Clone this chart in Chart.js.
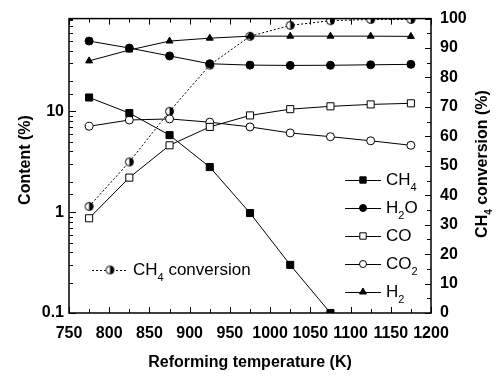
<!DOCTYPE html>
<html>
<head>
<meta charset="utf-8">
<script src="https://cdn.jsdelivr.net/npm/chart.js@4.4.0/dist/chart.umd.min.js"></script>
<style>
  html, body { margin: 0; padding: 0; background: #fff; }
</style>
</head>
<body>
<canvas id="chart" width="496" height="376"></canvas>
<script>
// Reforming temperature (K) and gas content (%), log scale on the left
const temps = [775, 825, 875, 925, 975, 1025, 1075, 1125, 1175];
const ch4 = [13.7, 9.6, 5.8, 2.8, 0.98, 0.30, 0.1];
const h2o = [49.7, 42.4, 35.4, 29.6, 28.7, 28.5, 28.6, 28.9, 29.2];
const co = [0.87, 2.2, 4.6, 7.0, 9.1, 10.5, 11.2, 11.7, 12.0];
const co2 = [7.1, 8.2, 8.4, 7.8, 7.0, 6.1, 5.6, 5.1, 4.6];
const h2 = [31.6, 40.5, 49.7, 53.1, 55.6, 55.6, 55.6, 55.6, 55.3];
// CH4 conversion (%), right axis
const conversion = [36.2, 51.3, 68.5, 84.2, 94.0, 97.7, 99.3, 99.7, 99.7];

const leftLabels = [0.1, 1, 10];
const xLabelStep = 50;
const rightLabelStep = 10;

const FONT = '"Liberation Sans", Arial, sans-serif';
const tickFont = { family: FONT, size: 16, weight: 'bold' };

const pts = vals => vals.map((v, i) => ({ x: temps[i], y: v }));

// circle with the right half filled
function halfDot(r) {
    const cv = document.createElement('canvas');
    const s = Math.ceil(2 * r + 3);
    cv.width = cv.height = s;
    const g = cv.getContext('2d');
    const c = s / 2;
    g.fillStyle = '#fff';
    g.beginPath(); g.arc(c, c, r, 0, 2 * Math.PI); g.fill();
    g.fillStyle = '#000';
    g.beginPath(); g.arc(c, c, r, -Math.PI / 2, Math.PI / 2); g.closePath(); g.fill();
    g.strokeStyle = '#000'; g.lineWidth = 1;
    g.beginPath(); g.arc(c, c, r, 0, 2 * Math.PI); g.stroke();
    return cv;
}

const series = (data, style, filled, radius) => ({
    data: pts(data),
    yAxisID: 'y',
    borderColor: '#000',
    borderWidth: 1,
    pointStyle: style,
    pointRadius: radius,
    pointHoverRadius: radius,
    pointBorderWidth: 1,
    pointBorderColor: '#000',
    pointBackgroundColor: filled ? '#000' : '#fff',
    tension: 0
});

// draws text runs, sub runs are smaller and shifted down
function richText(ctx, x, y, runs, size, align) {
    const big = 'normal ' + size + 'px ' + FONT;
    const small = 'normal ' + Math.round(size * 0.65) + 'px ' + FONT;
    let w = 0;
    runs.forEach(([t, sub]) => { ctx.font = sub ? small : big; w += ctx.measureText(t).width; });
    let cx = align === 'center' ? x - w / 2 : x;
    ctx.textAlign = 'left';
    ctx.textBaseline = 'middle';
    runs.forEach(([t, sub]) => {
        ctx.font = sub ? small : big;
        ctx.fillText(t, cx, sub ? y + size * 0.45 : y);
        cx += ctx.measureText(t).width;
    });
}

function marker(ctx, style, x, y, r, filled) {
    ctx.fillStyle = filled ? '#000' : '#fff';
    ctx.beginPath();
    if (style === 'rect') {
        const s = r * Math.SQRT1_2;
        ctx.rect(x - s, y - s, 2 * s, 2 * s);
    } else if (style === 'triangle') {
        for (let k = 0; k < 3; k++) {
            const a = -Math.PI / 2 + k * 2 * Math.PI / 3;
            const px = x + Math.cos(a) * r, py = y + Math.sin(a) * r;
            k ? ctx.lineTo(px, py) : ctx.moveTo(px, py);
        }
        ctx.closePath();
    } else {
        ctx.arc(x, y, r, 0, 2 * Math.PI);
    }
    ctx.fill();
    ctx.stroke();
}

const legendItems = [
    { style: 'rect', filled: true, r: 4.5, runs: [['CH'], ['4', 1]] },
    { style: 'circle', filled: true, r: 3.5, runs: [['H'], ['2', 1], ['O']] },
    { style: 'rect', filled: false, r: 4.5, runs: [['CO']] },
    { style: 'circle', filled: false, r: 3.5, runs: [['CO'], ['2', 1]] },
    { style: 'triangle', filled: true, r: 4, runs: [['H'], ['2', 1]] }
];

const decorations = {
    id: 'decorations',
    afterDraw(c) {
        const ctx = c.ctx, a = c.chartArea;
        const sx = c.scales.x, sy = c.scales.y, sr = c.scales.y2;
        ctx.save();
        ctx.strokeStyle = '#000';
        ctx.fillStyle = '#000';

        // inward tick marks
        ctx.lineWidth = 1;
        ctx.beginPath();
        sx.ticks.forEach(t => {
            const px = Math.round(sx.getPixelForValue(t.value)) + 0.5;
            const len = t.value % xLabelStep === 0 ? 6 : 4;
            ctx.moveTo(px, a.bottom); ctx.lineTo(px, a.bottom - len);
            ctx.moveTo(px, a.top); ctx.lineTo(px, a.top + len);
        });
        sy.ticks.forEach(t => {
            if (t.value > sy.max) return;
            const py = Math.round(sy.getPixelForValue(t.value)) + 0.5;
            const lg = Math.log10(t.value);
            const len = Math.abs(lg - Math.round(lg)) < 1e-6 ? 7 : 4;
            ctx.moveTo(a.left, py); ctx.lineTo(a.left + len, py);
        });
        sr.ticks.forEach(t => {
            const py = Math.round(sr.getPixelForValue(t.value)) + 0.5;
            const len = t.value % rightLabelStep === 0 ? 6 : 4;
            ctx.moveTo(a.right, py); ctx.lineTo(a.right - len, py);
        });
        ctx.stroke();

        // frame
        ctx.lineWidth = 1.5;
        ctx.strokeRect(a.left, a.top, a.right - a.left, a.bottom - a.top);

        // axis titles
        ctx.font = 'bold 16px ' + FONT;
        ctx.textAlign = 'center';
        ctx.textBaseline = 'middle';
        ctx.fillText('Reforming temperature (K)', (a.left + a.right) / 2, 363);
        ctx.save();
        ctx.translate(26, 160);
        ctx.rotate(-Math.PI / 2);
        ctx.fillText('Content (%)', 0, 0);
        ctx.restore();
        ctx.save();
        ctx.translate(483, 164);
        ctx.rotate(-Math.PI / 2);
        const bold = 'bold 16px ' + FONT, boldSmall = 'bold 10px ' + FONT;
        const runs = [['CH', bold, 0], ['4', boldSmall, 6], [' conversion (%)', bold, 0]];
        let w = 0;
        runs.forEach(([t, f]) => { ctx.font = f; w += ctx.measureText(t).width; });
        let cx = -w / 2;
        ctx.textAlign = 'left';
        runs.forEach(([t, f, dy]) => { ctx.font = f; ctx.fillText(t, cx, dy); cx += ctx.measureText(t).width; });
        ctx.restore();

        // species legend
        ctx.lineWidth = 1;
        legendItems.forEach((it, i) => {
            const y = 180 + i * 28;
            ctx.beginPath(); ctx.moveTo(345, y + 0.5); ctx.lineTo(381, y + 0.5); ctx.stroke();
            marker(ctx, it.style, 363, y, it.r, it.filled);
            ctx.fillStyle = '#000';
            richText(ctx, 386, y, it.runs, 17);
        });

        // conversion legend
        const ly = 270;
        ctx.setLineDash([2, 2]);
        ctx.beginPath(); ctx.moveTo(92, ly + 0.5); ctx.lineTo(128, ly + 0.5); ctx.stroke();
        ctx.setLineDash([]);
        const hd = halfDot(4);
        ctx.drawImage(hd, 110 - hd.width / 2, ly - hd.height / 2);
        ctx.fillStyle = '#000';
        richText(ctx, 133, ly, [['CH'], ['4', 1], [' conversion']], 17);

        ctx.restore();
    }
};

new Chart(document.getElementById('chart'), {
    type: 'line',
    data: {
        datasets: [
            series(ch4, 'rect', true, 5),
            series(h2o, 'circle', true, 4),
            series(co, 'rect', false, 5),
            series(co2, 'circle', false, 4),
            series(h2, 'triangle', true, 4),
            {
                data: pts(conversion),
                yAxisID: 'y2',
                borderColor: '#000',
                borderWidth: 1,
                borderDash: [2, 2],
                pointStyle: halfDot(4),
                pointRadius: 4,
                tension: 0
            }
        ]
    },
    options: {
        responsive: false,
        animation: false,
        events: [],
        layout: { padding: { top: 15 } },
        plugins: { legend: { display: false }, tooltip: { enabled: false } },
        scales: {
            x: {
                type: 'linear', min: 750, max: 1200,
                afterFit: s => { s.height = 63; },
                grid: { display: false, drawTicks: false },
                border: { display: false },
                ticks: {
                    stepSize: 25, autoSkip: false, maxRotation: 0, padding: 11,
                    color: '#000', font: tickFont,
                    callback: v => (v % xLabelStep === 0 ? String(v) : '')
                }
            },
            y: {
                type: 'logarithmic', position: 'left', min: 0.1, max: 83,
                afterFit: s => { s.width = 69; },
                grid: { display: false, drawTicks: false },
                border: { display: false },
                ticks: {
                    autoSkip: false, padding: 5, color: '#000', font: tickFont,
                    callback: v => (leftLabels.some(t => Math.abs(t - v) < 1e-9) ? String(v) : '')
                }
            },
            y2: {
                type: 'linear', position: 'right', min: 0, max: 100,
                afterFit: s => { s.width = 65; },
                grid: { display: false, drawTicks: false },
                border: { display: false },
                ticks: {
                    stepSize: 5, autoSkip: false, padding: 9, color: '#000', font: tickFont,
                    callback: v => (v % rightLabelStep === 0 ? String(v) : '')
                }
            }
        }
    },
    plugins: [decorations]
});
</script>
</body>
</html>
